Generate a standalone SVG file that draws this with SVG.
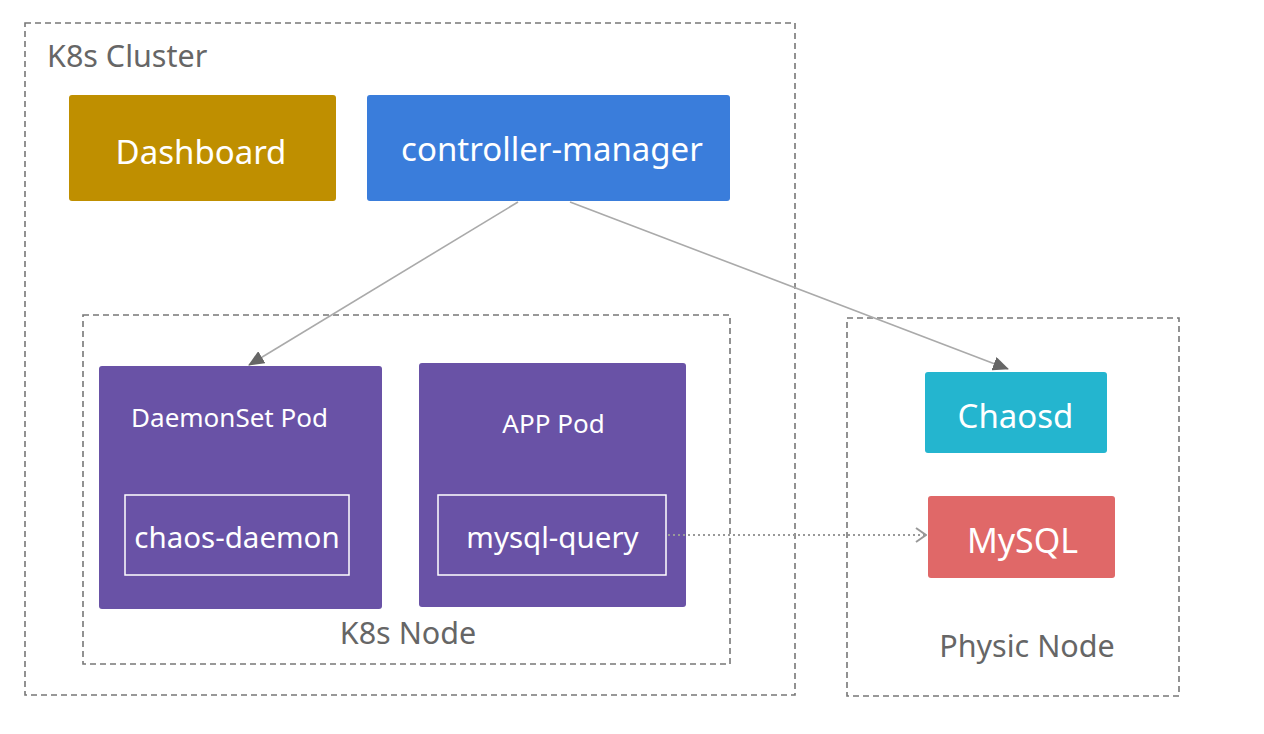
<svg xmlns="http://www.w3.org/2000/svg" width="1264" height="734" viewBox="0 0 1264 734">
<style>
.frame{fill:none;stroke:#777;stroke-width:1.6;stroke-dasharray:6 4}
.lbl{font-family:"Noto Sans","Open Sans",sans-serif;fill:#666;font-size:30.5px}
.box{stroke:none}
.t{font-family:"Noto Sans","Open Sans",sans-serif;fill:#fff;text-anchor:middle}
.inner{fill:none;stroke:#fff;stroke-width:1.5}
.edge{fill:none;stroke:#aaa;stroke-width:1.6}
</style>
<defs>
<marker id="ah" markerWidth="16" markerHeight="14" refX="15" refY="7" orient="auto" markerUnits="userSpaceOnUse" viewBox="0 0 16 14">
<path d="M0,0 L16,7 L0,14 Z" fill="#666"/>
</marker>
<marker id="oh" markerWidth="12" markerHeight="16" refX="11" refY="8" orient="auto" markerUnits="userSpaceOnUse" viewBox="0 0 12 16">
<path d="M1,1 L11,8 L1,15" fill="none" stroke="#999" stroke-width="2"/>
</marker>
</defs>
<rect width="1264" height="734" fill="#fff"/>
<g id="k8s-cluster">
<rect class="frame" x="25" y="23" width="770" height="672"/>
<text class="lbl" x="47" y="67" font-size="31">K8s Cluster</text>
</g>
<g id="k8s-node">
<rect class="frame" x="83" y="315" width="647" height="349"/>
<text class="lbl" x="408" y="644" text-anchor="middle">K8s Node</text>
</g>
<g id="physic-node">
<rect class="frame" x="847" y="318" width="332" height="378"/>
<text class="lbl" x="1027" y="657" text-anchor="middle">Physic Node</text>
</g>
<g id="dashboard">
<rect class="box" x="69" y="95" width="267" height="106" rx="3" fill="#BF8F00"/>
<text class="t" x="201" y="164" font-size="33">Dashboard</text>
</g>
<g id="controller-manager">
<rect class="box" x="367" y="95" width="363" height="106" rx="3" fill="#3A7DDB"/>
<text class="t" x="552" y="161" font-size="33">controller-manager</text>
</g>
<g id="daemonset-pod">
<rect class="box" x="99" y="366" width="283" height="243" rx="3" fill="#6952A6"/>
<text class="t" x="229.5" y="427" font-size="26">DaemonSet Pod</text>
</g>
<g id="chaos-daemon">
<rect class="inner" x="125" y="495" width="224" height="80"/>
<text class="t" x="237" y="548" font-size="29.5">chaos-daemon</text>
</g>
<g id="app-pod">
<rect class="box" x="419" y="363" width="267" height="244" rx="3" fill="#6952A6"/>
<text class="t" x="553.5" y="433" font-size="26">APP Pod</text>
</g>
<g id="mysql-query">
<rect class="inner" x="438" y="495" width="228" height="80"/>
<text class="t" x="552.5" y="548" font-size="29.5">mysql-query</text>
</g>
<g id="chaosd">
<rect class="box" x="925" y="372" width="182" height="81" rx="3" fill="#24B5CF"/>
<text class="t" x="1015.5" y="428" font-size="33">Chaosd</text>
</g>
<g id="mysql">
<rect class="box" x="928" y="496" width="187" height="82" rx="3" fill="#E06868"/>
<text class="t" x="1022.5" y="553" font-size="34">MySQL</text>
</g>
<g id="connectors">
<line class="edge" x1="518" y1="202" x2="249" y2="365" marker-end="url(#ah)"/>
<line class="edge" x1="570" y1="202" x2="1008" y2="369" marker-end="url(#ah)"/>
<line x1="668" y1="535" x2="926" y2="535" stroke="#999" stroke-width="2" stroke-dasharray="2 3" marker-end="url(#oh)"/>
</g>
</svg>
